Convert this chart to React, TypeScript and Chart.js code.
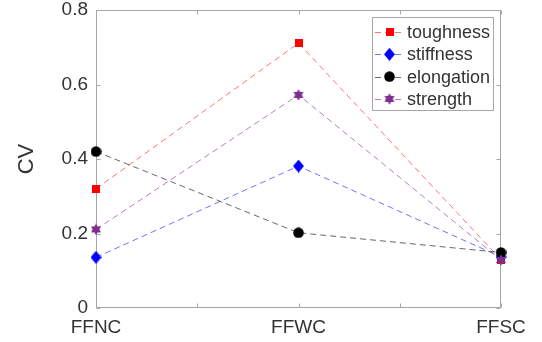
import React, { useEffect, useRef } from 'react';
import { Chart, registerables } from 'chart.js';

Chart.register(...registerables);

const categories = ['FFNC', 'FFWC', 'FFSC'];
const toughness = [0.32, 0.711, 0.13];
const stiffness = [0.136, 0.381, 0.137];
const elongation = [0.42, 0.202, 0.149];
const strength = [0.211, 0.572, 0.129];
const yTickLabels = ['0', '0.2', '0.4', '0.6', '0.8'];
const seriesNames = ['toughness', 'stiffness', 'elongation', 'strength'];

const FONT = '"Liberation Sans", Arial, Helvetica, sans-serif';
const TEXT = '#333333';
const AXIS = '#a6a6a6';

function makeMarker(kind: string, color: string): HTMLCanvasElement {
  const c = document.createElement('canvas');
  let w = 11, h = 11;
  if (kind === 'square') { w = 8; h = 8; }
  if (kind === 'diamond') { w = 11; h = 13; }
  if (kind === 'hexagram') { w = 12; h = 12; }
  c.width = w; c.height = h;
  const ctx = c.getContext('2d')!;
  ctx.fillStyle = color;
  if (kind === 'square') {
    ctx.fillRect(0, 0, w, h);
  } else if (kind === 'diamond') {
    ctx.beginPath();
    ctx.moveTo(w / 2, 0); ctx.lineTo(w, h / 2); ctx.lineTo(w / 2, h); ctx.lineTo(0, h / 2);
    ctx.closePath(); ctx.fill();
  } else if (kind === 'circle') {
    ctx.beginPath(); ctx.arc(w / 2, h / 2, 5.3, 0, Math.PI * 2); ctx.fill();
  } else {
    const cx = w / 2, cy = h / 2, R = 5.8;
    for (const start of [-90, 90]) {
      ctx.beginPath();
      for (let k = 0; k < 3; k++) {
        const a = ((start + k * 120) * Math.PI) / 180;
        const x = cx + R * Math.cos(a), y = cy + R * Math.sin(a);
        if (k === 0) ctx.moveTo(x, y); else ctx.lineTo(x, y);
      }
      ctx.closePath(); ctx.fill();
    }
  }
  return c;
}

export default function App() {
  const ref = useRef<HTMLCanvasElement | null>(null);

  useEffect(() => {
    const canvas = ref.current;
    if (!canvas) return;

    const markers = [
      makeMarker('square', '#ff0000'),
      makeMarker('diamond', '#0000ff'),
      makeMarker('circle', '#000000'),
      makeMarker('hexagram', '#7E2F8E'),
    ];
    const lineColors = [
      'rgba(255,0,0,0.55)',
      'rgba(0,0,255,0.55)',
      'rgba(0,0,0,0.6)',
      'rgba(126,47,142,0.6)',
    ];
    const series = [toughness, stiffness, elongation, strength];
    const dash = [6, 4];

    const framePlugin = {
      id: 'matlabFrame',
      beforeDatasetsDraw(chart: any) {
        const { ctx, chartArea } = chart;
        const { left, right, top, bottom } = chartArea;
        const xs = chart.scales.x, ys = chart.scales.y;
        ctx.save();
        ctx.strokeStyle = AXIS;
        ctx.lineWidth = 1;
        const L = Math.round(left) + 0.5, R = Math.round(right) - 0.5;
        const T = Math.round(top) + 0.5, B = Math.round(bottom) - 0.5;
        ctx.strokeRect(L, T, R - L, B - T);
        ctx.beginPath();
        [0, 0.2, 0.4, 0.6, 0.8].forEach((v) => {
          const py = Math.round(ys.getPixelForValue(v)) + 0.5;
          ctx.moveTo(L, py); ctx.lineTo(L + 4, py);
          ctx.moveTo(R, py); ctx.lineTo(R - 4, py);
        });
        [0, 0.5, 1, 1.5, 2].forEach((v) => {
          const px = Math.round(xs.getPixelForValue(v)) + 0.5;
          ctx.moveTo(px, B); ctx.lineTo(px, B - 4);
          ctx.moveTo(px, T); ctx.lineTo(px, T + 4);
        });
        ctx.stroke();
        ctx.restore();
      },
    };

    const legendPlugin = {
      id: 'matlabLegend',
      afterDraw(chart: any) {
        const { ctx } = chart;
        ctx.save();
        ctx.fillStyle = '#ffffff';
        ctx.fillRect(372.5, 17.5, 121, 93);
        ctx.strokeStyle = AXIS;
        ctx.lineWidth = 1;
        ctx.strokeRect(372.5, 17.5, 121, 93);
        ctx.font = `18px ${FONT}`;
        ctx.textBaseline = 'middle';
        ctx.textAlign = 'left';
        seriesNames.forEach((name, i) => {
          const y = 32 + i * 22.3;
          ctx.save();
          ctx.strokeStyle = lineColors[i];
          ctx.setLineDash(dash);
          ctx.beginPath();
          ctx.moveTo(375, Math.round(y) + 0.5);
          ctx.lineTo(403, Math.round(y) + 0.5);
          ctx.stroke();
          ctx.restore();
          const m = markers[i];
          ctx.drawImage(m, 389.5 - m.width / 2, y - m.height / 2);
          ctx.fillStyle = TEXT;
          ctx.fillText(name, 407, y + 1);
        });
        ctx.restore();
      },
    };

    const chart = new Chart(canvas, {
      type: 'line',
      data: {
        labels: categories,
        datasets: series.map((d, i) => ({
          label: seriesNames[i],
          data: d,
          borderColor: lineColors[i],
          backgroundColor: lineColors[i],
          borderWidth: 1,
          borderDash: dash,
          pointStyle: markers[i] as any,
          pointRadius: 5,
          pointHoverRadius: 5,
          fill: false,
          tension: 0,
          clip: false as any,
          order: 3 - i,
        })),
      },
      options: {
        responsive: false,
        animation: false,
        devicePixelRatio: 1,
        layout: { padding: { left: 0, right: 41, top: 10, bottom: 0 } },
        plugins: {
          legend: { display: false },
          tooltip: { enabled: false },
        },
        scales: {
          x: {
            type: 'category',
            offset: false,
            grid: { display: false, drawTicks: false },
            border: { display: false },
            ticks: {
              font: { family: FONT, size: 19 },
              color: TEXT,
              padding: 8,
              maxRotation: 0,
              autoSkip: false,
            },
            afterFit: (s: any) => {
              s.height = 34;
              s.paddingLeft = 0;
              s.paddingRight = 0;
            },
          },
          y: {
            type: 'linear',
            min: 0,
            max: 0.8,
            grid: { display: false, drawTicks: false },
            border: { display: false },
            ticks: {
              stepSize: 0.2,
              font: { family: FONT, size: 19 },
              color: TEXT,
              padding: 8,
              callback: (_v: any, i: number) => yTickLabels[i],
            },
            title: {
              display: true,
              text: 'CV',
              font: { family: FONT, size: 22 },
              color: TEXT,
              padding: { top: 14, bottom: 0 },
            },
            afterFit: (s: any) => {
              s.width = 96;
              s.paddingTop = 0;
              s.paddingBottom = 0;
            },
          },
        },
      } as any,
      plugins: [framePlugin, legendPlugin],
    });

    return () => chart.destroy();
  }, []);

  return (
    <div style={{ position: 'absolute', left: 0, top: 0, width: 542, height: 342, background: '#fff' }}>
      <canvas ref={ref} width={542} height={342} style={{ display: 'block' }} />
    </div>
  );
}
